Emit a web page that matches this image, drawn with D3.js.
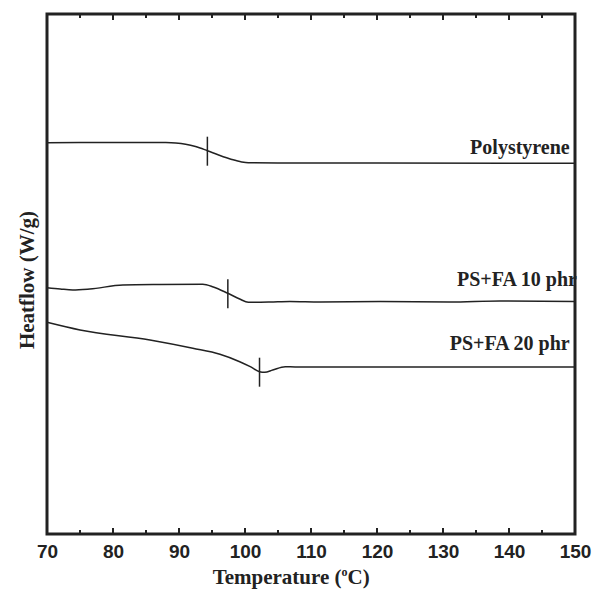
<!DOCTYPE html>
<html>
<head>
<meta charset="utf-8">
<script src="https://cdn.jsdelivr.net/npm/d3@7"></script>
<style>
  body { margin: 0; background: #fff; }
  svg { display: block; }
</style>
</head>
<body>
<div id="dsc"></div>
<script>
// temperature (C) / heatflow (arbitrary, offset)
var polystyrene = [
    [70, 39.13], [75, 39.16], [80, 39.14], [85, 39.15], [88, 39.14], [89.5, 39.1],
    [91, 38.98], [92.5, 38.75], [94.3, 38.33], [96, 37.9], [98, 37.45], [99.5, 37.2],
    [100.5, 37.12], [105, 37.1], [120, 37.1], [150, 37.08]
];
var psfa10 = [
    [70, 24.63], [72, 24.5], [73.9, 24.4], [76.5, 24.5], [81.5, 24.9], [87.1, 24.95],
    [93.6, 24.97], [95.2, 24.7], [97.4, 24.07], [99.2, 23.5], [100.5, 23.17],
    [103.8, 23.2], [106.8, 23.25], [111.4, 23.2], [120.5, 23.25], [131, 23.2],
    [138.6, 23.3], [150, 23.25]
];
var psfa20 = [
    [70, 21.17], [75, 20.4], [85.6, 19.4], [92.1, 18.57], [96.2, 17.97], [99.2, 17.23],
    [100.8, 16.73], [102.2, 16.23], [103, 16.17], [104.2, 16.4], [106.1, 16.73],
    [107.6, 16.7], [150, 16.7]
];
var seriesNames = ['Polystyrene', 'PS+FA 10 phr', 'PS+FA 20 phr'];
var tgValues = [94.3, 97.4, 102.2];
var xTicks = [70, 80, 90, 100, 110, 120, 130, 140, 150];

var dim = { width: 592, height: 589 };
var margin = { top: 14, right: 17, bottom: 55, left: 47 };

var svg = d3.select('#dsc').append('svg')
    .attr('width', dim.width)
    .attr('height', dim.height);

var xScale = d3.scaleLinear()
    .domain([70, 150])
    .range([margin.left, dim.width - margin.right]);

var yScale = d3.scaleLinear()
    .domain([0, 52])
    .range([dim.height - margin.bottom, margin.top]);

var line = d3.line()
    .x(d => xScale(d[0]))
    .y(d => yScale(d[1]))
    .curve(d3.curveMonotoneX);

var allSeries = [polystyrene, psfa10, psfa20];

svg.selectAll('path.curve')
    .data(allSeries)
    .enter().append('path')
    .attr('class', 'curve')
    .attr('d', line)
    .attr('fill', 'none')
    .attr('stroke', '#222')
    .attr('stroke-width', 1.5);

// Tg markers: short vertical bar across each curve
function valueAt(s, t) {
    var i = d3.bisector(d => d[0]).left(s, t);
    var a = s[i - 1], b = s[i];
    if (!a) return b[1];
    if (!b) return a[1];
    return a[1] + (b[1] - a[1]) * (t - a[0]) / (b[0] - a[0]);
}

svg.selectAll('line.tg')
    .data(tgValues)
    .enter().append('line')
    .attr('class', 'tg')
    .attr('x1', d => xScale(d))
    .attr('x2', d => xScale(d))
    .attr('y1', (d, i) => yScale(valueAt(allSeries[i], d)) - 14)
    .attr('y2', (d, i) => yScale(valueAt(allSeries[i], d)) + 15)
    .attr('stroke', '#222')
    .attr('stroke-width', 1.5);

// labels to the right, above each curve
var labelPos = [[149.2, 38.0], [150.3, 24.8], [149.2, 18.4]];
svg.selectAll('text.series')
    .data(seriesNames)
    .enter().append('text')
    .attr('class', 'series')
    .attr('x', (d, i) => xScale(labelPos[i][0]))
    .attr('y', (d, i) => yScale(labelPos[i][1]))
    .attr('text-anchor', 'end')
    .attr('font-family', 'Liberation Serif, serif')
    .attr('font-weight', 'bold')
    .attr('font-size', 20)
    .attr('fill', '#222')
    .text(d => d);

// axes
var bottom = dim.height - margin.bottom;
var xAxis = d3.axisBottom(xScale)
    .tickValues(xTicks)
    .tickSize(0)
    .tickPadding(11)
    .tickFormat(d3.format('d'));

var gx = svg.append('g')
    .attr('transform', 'translate(0,' + bottom + ')')
    .call(xAxis);
gx.select('.domain').remove();
gx.selectAll('text')
    .attr('font-family', 'Liberation Sans, Arial, sans-serif')
    .attr('font-weight', 'bold')
    .attr('font-size', 19)
    .attr('fill', '#222');

var minor = d3.range(70, 151, 5);
[[bottom, -1], [margin.top, 1]].forEach(function (p) {
    svg.append('g').selectAll('line')
        .data(minor.slice(1, -1))
        .enter().append('line')
        .attr('x1', d => xScale(d))
        .attr('x2', d => xScale(d))
        .attr('y1', p[0])
        .attr('y2', d => p[0] + p[1] * (d % 10 === 0 ? 6 : 4))
        .attr('stroke', '#222')
        .attr('stroke-width', 2);
});

svg.append('rect')
    .attr('x', margin.left)
    .attr('y', margin.top)
    .attr('width', dim.width - margin.left - margin.right)
    .attr('height', bottom - margin.top)
    .attr('fill', 'none')
    .attr('stroke', '#222')
    .attr('stroke-width', 3);

// axis titles
var xt = svg.append('text')
    .attr('x', xScale(107))
    .attr('y', 584)
    .attr('text-anchor', 'middle')
    .attr('font-family', 'Liberation Serif, serif')
    .attr('font-weight', 'bold')
    .attr('font-size', 21)
    .attr('fill', '#222');
xt.append('tspan').text('Temperature (');
xt.append('tspan').attr('dy', -8).attr('font-size', 12).text('o');
xt.append('tspan').attr('dy', 8).text('C)');

svg.append('text')
    .attr('transform', 'translate(34,280) rotate(-90)')
    .attr('text-anchor', 'middle')
    .attr('font-family', 'Liberation Serif, serif')
    .attr('font-weight', 'bold')
    .attr('font-size', 21)
    .attr('fill', '#222')
    .text('Heatflow (W/g)');
</script>
</body>
</html>
